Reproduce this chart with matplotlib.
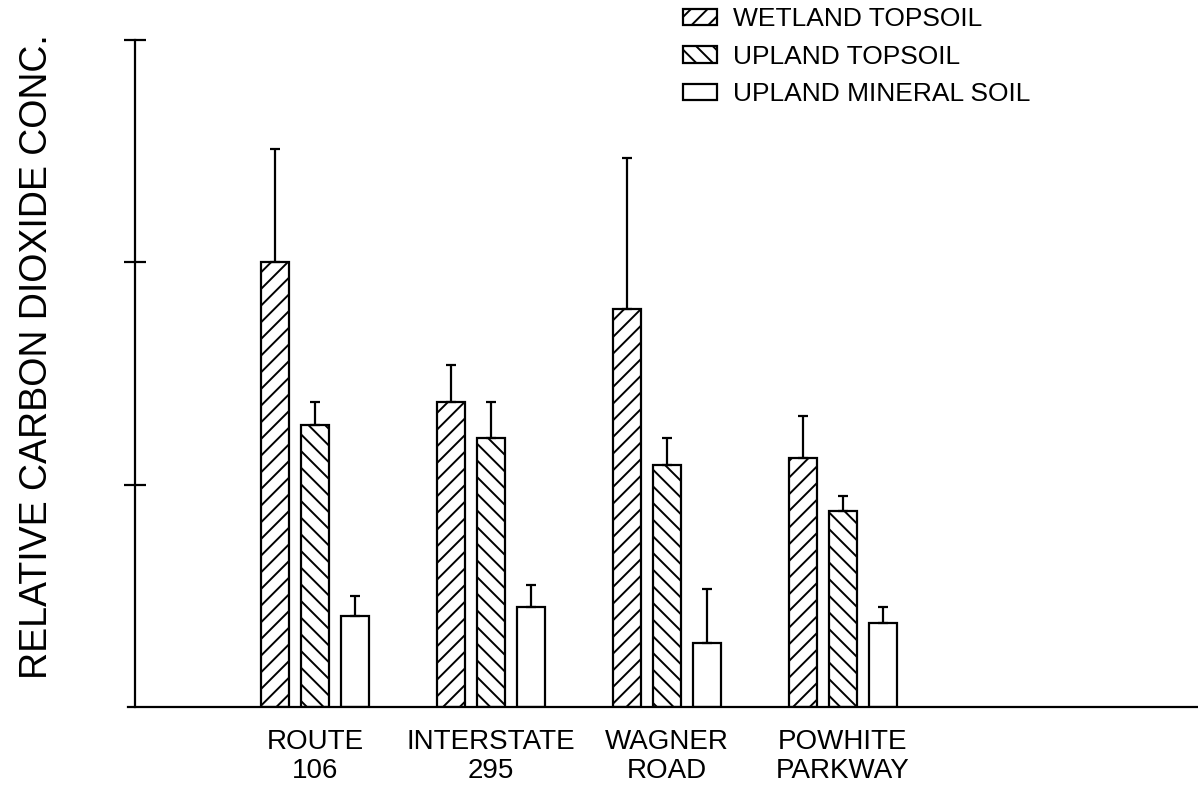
import numpy as np
import matplotlib
matplotlib.use('Agg')
import matplotlib.pyplot as plt

plt.rcParams['font.family'] = ['Liberation Sans Narrow', 'Liberation Sans', 'DejaVu Sans']
plt.rcParams['hatch.linewidth'] = 1.4

# sites and soil types
sites = ['ROUTE\n106', 'INTERSTATE\n295', 'WAGNER\nROAD', 'POWHITE\nPARKWAY']
soils = ['WETLAND TOPSOIL', 'UPLAND TOPSOIL', 'UPLAND MINERAL SOIL']

# relative CO2 concentration (mean) and upper error
wetland = [2.00, 1.37, 1.79, 1.12]
wetland_err = [0.51, 0.17, 0.68, 0.19]
upland = [1.27, 1.21, 1.09, 0.88]
upland_err = [0.10, 0.16, 0.12, 0.07]
mineral = [0.41, 0.45, 0.29, 0.38]
mineral_err = [0.09, 0.10, 0.24, 0.07]

fig = plt.figure(figsize=(11.98, 7.87), dpi=100)
ax = fig.add_axes([128 / 1198, 80 / 787, 1 - 128 / 1198, 667 / 787])

x = np.arange(len(sites))
w = 0.155
off = 0.227
hatches = ['//', '\\\\', '']
means = [wetland, upland, mineral]
errs = [wetland_err, upland_err, mineral_err]
handles = []
for i in range(3):
    e = np.array(errs[i])
    b = ax.bar(x + (i - 1) * off, means[i], w, color='white', edgecolor='black',
               linewidth=1.6, hatch=hatches[i], label=soils[i],
               yerr=[np.zeros_like(e), e], capsize=3.6,
               error_kw=dict(ecolor='black', elinewidth=1.6, capthick=1.6))
    handles.append(b)

# axis scaling: group spacing 176 px, left spine at 135 px
px = 176.0
ax.set_xlim(-(315 - 128) / px, 3 + (1198 - 843) / px)
ax.set_ylim(0, 3)
ax.spines['left'].set_position(('data', -(315 - 135) / px))
ax.spines['left'].set_bounds(0, 3)
for s in ['top', 'right']:
    ax.spines[s].set_visible(False)
ax.spines['left'].set_linewidth(1.6)
ax.spines['bottom'].set_linewidth(1.6)

ax.set_yticks([1, 2, 3])
ax.set_yticklabels([])
ax.tick_params(axis='y', direction='inout', length=16, width=1.6)
ax.set_xticks(x)
ax.set_xticklabels(sites, fontsize=20, linespacing=1.15)
ax.tick_params(axis='x', length=0, pad=16)

fig.text(37 / 1198, 1 - 357 / 787, 'RELATIVE CARBON DIOXIDE CONC.', rotation=90,
         ha='center', va='center', fontsize=27)

fs = 19
fig.legend(handles=handles, loc='upper left', bbox_to_anchor=(683 / 1198, 1 - 7 / 787),
           frameon=False, fontsize=fs, borderpad=0, borderaxespad=0,
           handlelength=34 / (fs * 100 / 72), handleheight=15 / (fs * 100 / 72),
           handletextpad=0.6, labelspacing=0.52)

fig.savefig('out.png', dpi=100)
